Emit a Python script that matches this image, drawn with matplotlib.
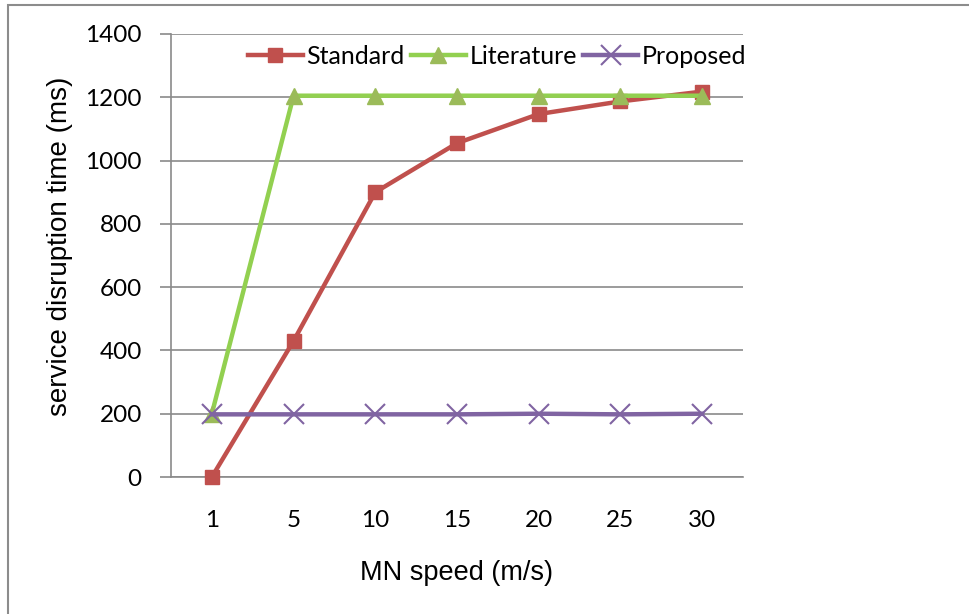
import matplotlib
matplotlib.use("Agg")
import matplotlib.pyplot as plt
from matplotlib.patches import Rectangle

speeds = ["1", "5", "10", "15", "20", "25", "30"]
standard = [0, 430, 900, 1055, 1147, 1187, 1218]
literature = [200, 1205, 1205, 1205, 1205, 1205, 1205]
proposed = [198, 198, 198, 198, 200, 198, 200]
y_ticks = [0, 200, 400, 600, 800, 1000, 1200, 1400]

W, H = 969, 614
fig = plt.figure(figsize=(W / 100, H / 100), dpi=100)
fig.patch.set_facecolor("white")

# chart border (left and top edges visible)
fig.patches.append(Rectangle((8 / W, -0.1), 1.2, 1 - 5 / H + 0.1,
                             transform=fig.transFigure, fill=False,
                             edgecolor="#8c8c8c", linewidth=1.5))

ax = fig.add_axes([171 / W, 1 - 477 / H, (743 - 171) / W, (477 - 34) / H])
x = list(range(len(speeds)))

ax.plot(x, standard, color="#C0504D", linewidth=3.2, marker="s", markersize=9.5,
        markerfacecolor="#C0504D", markeredgecolor="#C0504D", label="Standard",
        zorder=3, clip_on=False)
ax.plot(x, literature, color="#92D050", linewidth=3.2, marker="^", markersize=12,
        markerfacecolor="#9BBB59", markeredgecolor="#9BBB59", label="Literature",
        zorder=4, clip_on=False)
ax.plot(x, proposed, color="#8064A2", linewidth=3.2, marker="x", markersize=14,
        markeredgewidth=1.5, markeredgecolor="#8064A2", label="Proposed",
        zorder=5, clip_on=False)

ax.set_xlim(-0.5, len(speeds) - 0.5)
ax.set_ylim(0, 1400)
ax.set_yticks(y_ticks)
ax.set_xticks(x)
ax.set_xticklabels(speeds)
ax.yaxis.grid(True, color="#8a8a8a", linewidth=1.2)
ax.set_axisbelow(True)

for side in ["top", "right"]:
    ax.spines[side].set_visible(False)
ax.spines["left"].set_color("#8a8a8a")
ax.spines["bottom"].set_color("#8a8a8a")
ax.spines["left"].set_linewidth(1.2)
ax.spines["bottom"].set_linewidth(1.2)

ax.tick_params(axis="y", length=8, width=1.2, color="#8a8a8a", pad=13, labelsize=17.5)
ax.tick_params(axis="x", length=0, pad=24, labelsize=17.5)
for lab in ax.get_xticklabels() + ax.get_yticklabels():
    lab.set_fontfamily("Lato")

fig.text(60 / W, 1 - 246 / H, "service disruption time (ms)", rotation=90,
         ha="center", va="center", fontsize=20, family="Liberation Sans")
fig.text(457 / W, 1 - 573 / H, "MN speed (m/s)", ha="center", va="center",
         fontsize=19.5, family="Liberation Sans")

leg = ax.legend(loc="center", bbox_to_anchor=(497 / W, 1 - 56 / H),
                bbox_transform=fig.transFigure, ncol=3, frameon=False,
                handlelength=2.2, handletextpad=0.15, columnspacing=0.25,
                prop={"family": "Lato", "size": 18})

fig.savefig("out.png", dpi=100, facecolor="white")
